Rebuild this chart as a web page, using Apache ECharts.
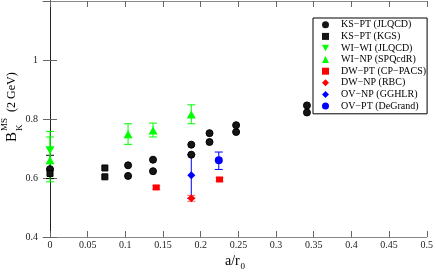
<!DOCTYPE html>
<html><head><meta charset="utf-8">
<script src="https://cdn.jsdelivr.net/npm/echarts@6/dist/echarts.min.js"></script>
<style>html,body{margin:0;padding:0;background:#fff}#c{width:436px;height:273px}</style>
</head><body><div id="c"></div>
<script>
const xTicks = [0, 0.05, 0.1, 0.15, 0.2, 0.25, 0.3, 0.35, 0.4, 0.45, 0.5];
const xTickLabels = ['0', '0.05', '0.1', '0.15', '0.2', '0.25', '0.3', '0.35', '0.4', '0.45', '0.5'];
const legendNames = ['KS\u2212PT (JLQCD)', 'KS\u2212PT (KGS)', 'WI\u2212WI (JLQCD)', 'WI\u2212NP (SPQcdR)',
  'DW\u2212PT (CP\u2212PACS)', 'DW\u2212NP (RBC)', 'OV\u2212NP (GGHLR)', 'OV\u2212PT (DeGrand)'];

const ksJlqcd = [[0,0.63],[0.1036,0.643],[0.1036,0.607],[0.1367,0.662],[0.1367,0.623],[0.1875,0.713],[0.1875,0.679],
  [0.2117,0.752],[0.2117,0.722],[0.247,0.779],[0.247,0.756],[0.341,0.846],[0.341,0.822]];
const ksJlqcdErr = [[0,0.598,0.677]];
const ksKgs = [[0,0.615],[0.0728,0.634],[0.0728,0.604]];
const wiWi = [[0,0.694]];
const wiWiErr = [[0,0.63,0.758]];
const wiNp = [[0,0.66],[0.1036,0.748],[0.1367,0.761],[0.1875,0.815]];
const wiNpErr = [[0,0.587,0.739],[0.1036,0.714,0.784],[0.1367,0.739,0.786],[0.1875,0.784,0.848]];
const dwPt = [[0.141,0.568],[0.225,0.595]];
const dwPtErr = [[0.141,0.562,0.574],[0.225,0.589,0.601]];
const dwNp = [[0.1875,0.531]];
const dwNpErr = [[0.1875,0.521,0.541]];
const ovNp = [[0.1875,0.609]];
const ovNpErr = [[0.1875,0.531,0.679]];
const ovPt = [[0.224,0.66]];
const ovPtErr = [[0.224,0.629,0.688]];

const FONT = '"Liberation Serif", "DejaVu Serif", serif';
const GREEN = '#00ff00', RED = '#ff0000', BLUE = '#0000ff', DARK = '#151515';
const DOWN_TRI = 'path://M0,0L10,0L5,9Z';

function errSeries(name, data, color) {
  return {
    type: 'custom', name: name, z: 1, silent: true,
    data: data, encode: { x: 0, y: [1, 2] },
    renderItem: function (params, api) {
      const x = api.value(0), lo = api.value(1), hi = api.value(2);
      const p1 = api.coord([x, lo]), p2 = api.coord([x, hi]);
      const w = 4;
      const st = { stroke: color, lineWidth: 1 };
      return { type: 'group', children: [
        { type: 'line', shape: { x1: p1[0], y1: p1[1], x2: p2[0], y2: p2[1] }, style: st },
        { type: 'line', shape: { x1: p1[0] - w, y1: p1[1], x2: p1[0] + w, y2: p1[1] }, style: st },
        { type: 'line', shape: { x1: p2[0] - w, y1: p2[1], x2: p2[0] + w, y2: p2[1] }, style: st }
      ]};
    }
  };
}
function sc(name, data, symbol, size, color, border) {
  return {
    type: 'scatter', name: name, data: data, symbol: symbol, symbolSize: size, z: 3,
    itemStyle: border ? { color: color, opacity: 1, borderColor: '#000', borderWidth: 1 } : { color: color, opacity: 1 }
  };
}

const chart = echarts.init(document.getElementById('c'), null, { renderer: 'canvas' });
chart.setOption({
  animation: false,
  backgroundColor: '#fff',
  grid: { left: 43, right: 8, top: 1, bottom: 36, containLabel: false },
  legend: {
    data: legendNames,
    orient: 'vertical', left: 313, top: 18,
    backgroundColor: '#fff', borderColor: '#000', borderWidth: 1, borderRadius: 0,
    padding: [1, 1, 2, 9], itemWidth: 7, itemHeight: 7, itemGap: 0,
    itemStyle: { opacity: 1, borderWidth: 0 },
    textStyle: { fontFamily: FONT, fontSize: 10, color: '#000', lineHeight: 11.6, padding: [0, 0, 0, 7] }
  },
  xAxis: [{
    type: 'value', min: -0.0093, max: 0.5, position: 'bottom',
    axisLine: { lineStyle: { color: '#888', width: 1 } },
    axisTick: { inside: true, length: 6, customValues: xTicks, lineStyle: { color: '#666' } },
    axisLabel: { customValues: xTicks, margin: 3, fontFamily: FONT, fontSize: 10, color: '#222',
      formatter: function (v) { const i = xTicks.indexOf(v); return i >= 0 ? xTickLabels[i] : ''; } },
    splitLine: { show: false }
  }, {
    type: 'value', min: -0.0093, max: 0.5, position: 'top',
    axisLine: { lineStyle: { color: '#888', width: 1 } },
    axisTick: { inside: true, length: 6, customValues: xTicks, lineStyle: { color: '#666' } },
    axisLabel: { show: false }, splitLine: { show: false }
  }],
  yAxis: [{
    type: 'value', min: 0.4, max: 1.2, interval: 0.2, position: 'left',
    axisLine: { lineStyle: { color: '#000', width: 1 } },
    axisTick: { inside: true, length: 7, lineStyle: { color: '#666' } },
    axisLabel: { margin: 5, fontFamily: FONT, fontSize: 10, color: '#222', showMaxLabel: false },
    splitLine: { show: false }
  }, {
    type: 'value', min: 0.4, max: 1.2, interval: 0.2, position: 'right',
    axisLine: { lineStyle: { color: '#222', width: 1 } },
    axisTick: { inside: true, length: 7, lineStyle: { color: '#666' } },
    axisLabel: { show: false }, splitLine: { show: false }
  }],
  graphic: [
    { type: 'group', x: 17, y: 142, rotation: Math.PI / 2, children: [
      { type: 'text', x: 0, y: -5, style: { text: 'B', font: '15px ' + FONT, fill: '#000', verticalAlign: 'middle' } },
      { type: 'text', x: 11, y: 3, style: { text: 'K', font: '9px ' + FONT, fill: '#000', verticalAlign: 'middle' } },
      { type: 'text', x: 11, y: -12, style: { text: 'MS', font: '9px ' + FONT, fill: '#000', verticalAlign: 'middle' } },
      { type: 'text', x: 30, y: -5, style: { text: '(2 GeV)', font: '12px ' + FONT, fill: '#000', verticalAlign: 'middle' } }
    ]},
    { type: 'text', x: 225, y: 261, style: { text: 'a/r', font: '14px ' + FONT, fill: '#000', verticalAlign: 'middle' } },
    { type: 'text', x: 240.5, y: 266.5, style: { text: '0', font: '9px ' + FONT, fill: '#000', verticalAlign: 'middle' } }
  ],
  series: [
    errSeries('e1', ksJlqcdErr, '#000'),
    errSeries('e3', wiWiErr, GREEN),
    errSeries('e4', wiNpErr, GREEN),
    errSeries('e5', dwPtErr, '#ff6666'),
    errSeries('e6', dwNpErr, '#ff6666'),
    errSeries('e7', ovNpErr, BLUE),
    errSeries('e8', ovPtErr, BLUE),
    sc(legendNames[0], ksJlqcd, 'circle', 7, DARK, true),
    sc(legendNames[1], ksKgs, 'rect', 6, DARK, true),
    sc(legendNames[2], wiWi, DOWN_TRI, [9, 8], GREEN),
    sc(legendNames[3], wiNp, 'triangle', [9, 8], GREEN),
    sc(legendNames[4], dwPt, 'rect', [7, 6], RED),
    sc(legendNames[5], dwNp, 'diamond', 8, RED),
    sc(legendNames[6], ovNp, 'diamond', 8, BLUE),
    sc(legendNames[7], ovPt, 'circle', 8, BLUE)
  ]
});
</script></body></html>
